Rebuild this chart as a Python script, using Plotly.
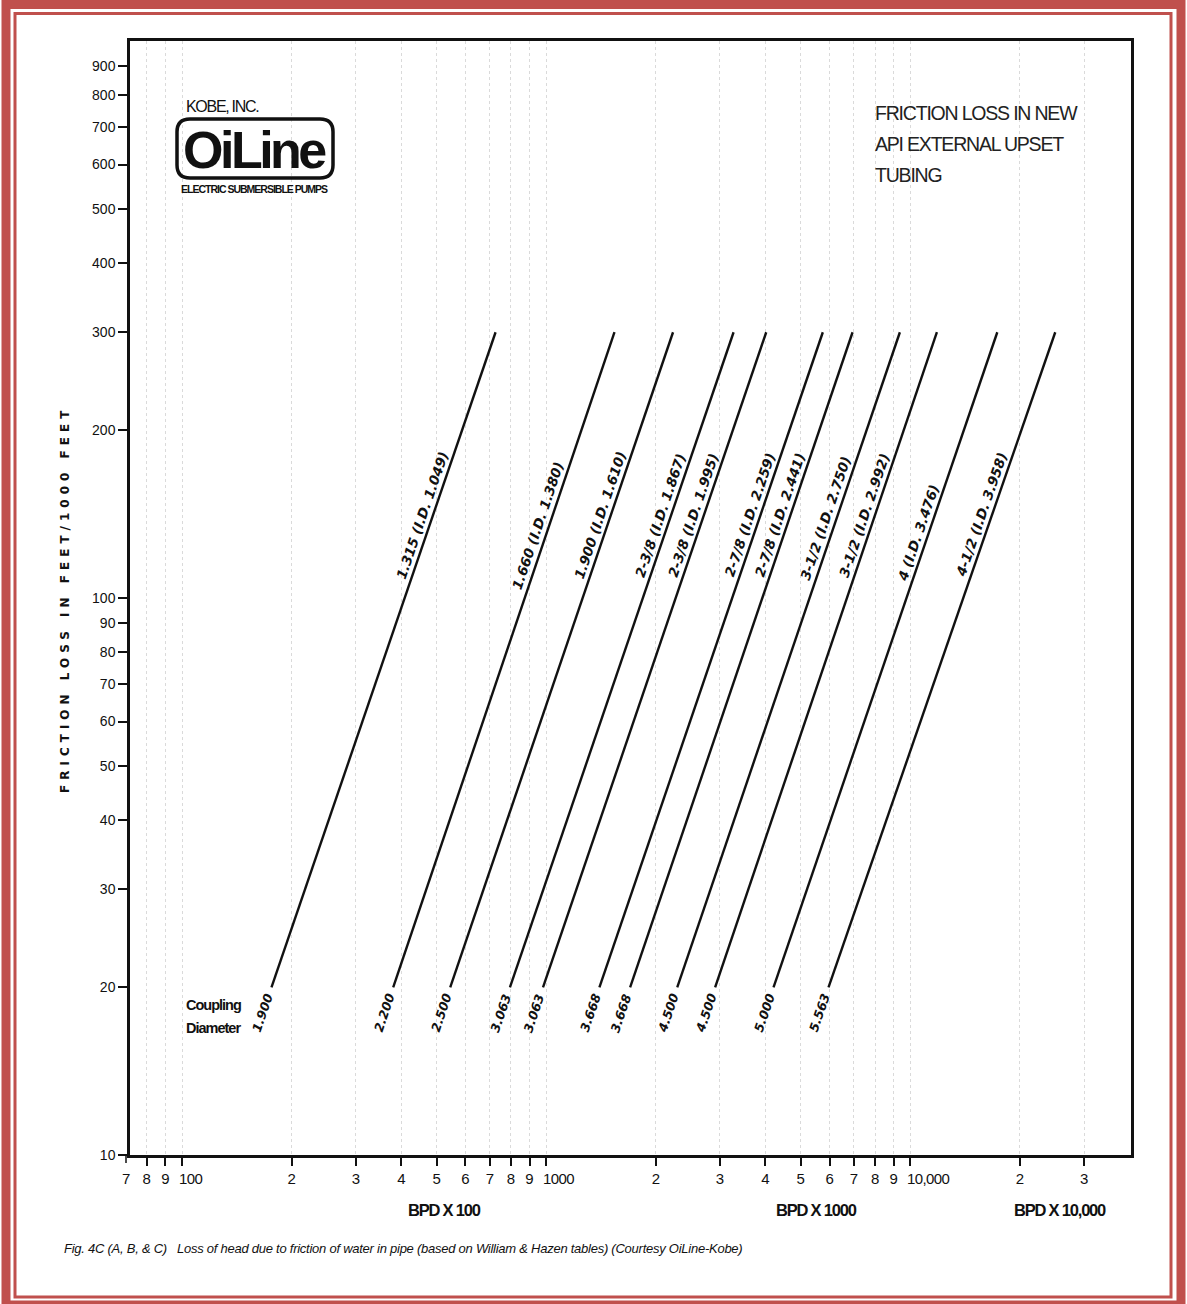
import math
import plotly.graph_objects as go

# Tubing sizes: nominal OD, inside diameter and coupling OD (inches)
pipe_od = ["1.315", "1.660", "1.900", "2-3/8", "2-3/8", "2-7/8", "2-7/8",
           "3-1/2", "3-1/2", "4", "4-1/2"]
pipe_id = ["1.049", "1.380", "1.610", "1.867", "1.995", "2.259", "2.441",
           "2.750", "2.992", "3.476", "3.958"]
coupling_od = ["1.900", "2.200", "2.500", "3.063", "3.063", "3.668", "3.668",
               "4.500", "4.500", "5.000", "5.563"]

# Each curve runs from 20 to 300 ft/1000 ft of friction loss
loss_low = 20
loss_high = 300
bpd_at_low = [176, 380, 545, 795, 980, 1400, 1700, 2290, 2910, 4210, 5960]
bpd_at_high = [726, 1540, 2230, 3270, 4020, 5750, 6940, 9360, 11830, 17330, 25000]

# Friction loss at which each curve's label sits
label_loss = [141, 135, 141, 141, 141, 141, 141, 139, 141, 131, 141]

# Axis ticks (decade labels are set separately, left-aligned on their tick)
x_tickvals = [80, 90, 100, 200, 300, 400, 500, 600, 700, 800, 900,
              1000, 2000, 3000, 4000, 5000, 6000, 7000, 8000, 9000,
              10000, 20000, 30000]
x_ticktext = ["8", "9", "", "2", "3", "4", "5", "6", "7", "8", "9",
              "", "2", "3", "4", "5", "6", "7", "8", "9",
              "", "2", "3"]
x_decades = [100, 1000, 10000]
x_decade_text = ["100", "1000", "10,000"]
x_first_tick = 70
x_first_text = "7"
y_tickvals = [10, 20, 30, 40, 50, 60, 70, 80, 90,
              100, 200, 300, 400, 500, 600, 700, 800, 900]
y_ticktext = [str(v) for v in y_tickvals]

# Page geometry
W, H = 1187, 1304
M_L, M_R, M_T, M_B = 130, 56, 41, 149
PLOT_W = W - M_L - M_R
PLOT_H = H - M_T - M_B
X_RANGE = [1.857, 4.606]
Y_RANGE = [1.0, 3.0]
PX_PER_DEC_X = PLOT_W / (X_RANGE[1] - X_RANGE[0])
PX_PER_DEC_Y = PLOT_H / (Y_RANGE[1] - Y_RANGE[0])

BORDER_RED = "#c0504d"
INK = "#111111"
SANS = "Liberation Sans, Arial, sans-serif"


def fx(px):
    """Page pixel column -> paper x."""
    return (px - M_L) / PLOT_W


def fy(py):
    """Page pixel row -> paper y."""
    return (H - M_B - py) / PLOT_H


def tight(txt, ls):
    """Text with tightened letter spacing (condensed look)."""
    return f'<span style="letter-spacing:{ls}px">{txt}</span>'


fig = go.Figure()

annotations = []
for od, pid, cpl, q0, q1, hl in zip(pipe_od, pipe_id, coupling_od,
                                     bpd_at_low, bpd_at_high, label_loss):
    fig.add_trace(go.Scatter(
        x=[q0, q1], y=[loss_low, loss_high], mode="lines",
        line=dict(color=INK, width=2.4), showlegend=False,
        hoverinfo="skip",
    ))
    lx0, lx1 = math.log10(q0), math.log10(q1)
    ly0, ly1 = math.log10(loss_low), math.log10(loss_high)
    ang = math.degrees(math.atan2((ly1 - ly0) * PX_PER_DEC_Y,
                                  (lx1 - lx0) * PX_PER_DEC_X))
    # Size label along the curve
    t = (math.log10(hl) - ly0) / (ly1 - ly0)
    annotations.append(dict(
        x=lx0 + t * (lx1 - lx0), y=math.log10(hl), xref="x", yref="y",
        text=f"{od} (I.D. {pid})", showarrow=False, textangle=-ang,
        xanchor="center", yanchor="middle", xshift=-11,
        font=dict(family="DejaVu Sans", size=13.5, color=INK,
                  weight="bold", style="italic"),
    ))
    # Coupling diameter just below the end of the curve
    d = 27
    annotations.append(dict(
        x=lx0, y=ly0, xref="x", yref="y", text=cpl, showarrow=False,
        textangle=-ang, xanchor="center", yanchor="middle",
        xshift=-d * math.cos(math.radians(ang)),
        yshift=-d * math.sin(math.radians(ang)),
        font=dict(family="DejaVu Sans", size=12.5, color=INK,
                  weight="bold", style="italic"),
    ))

# Decade tick labels sit just right of their ticks
for v, txt in zip(x_decades, x_decade_text):
    annotations.append(dict(
        x=math.log10(v), y=0, xref="x", yref="paper", text=tight(txt, -0.6),
        showarrow=False, xanchor="left", yanchor="top", xshift=-5, yshift=-13,
        font=dict(family=SANS, size=15, color=INK),
    ))
# First minor tick lies just left of the frame
annotations.append(dict(
    x=fx(126), y=0, xref="paper", yref="paper", text=x_first_text,
    showarrow=False, xanchor="center", yanchor="top", yshift=-13,
    font=dict(family=SANS, size=15, color=INK),
))

# Chart title block
for txt, py in [("FRICTION LOSS IN NEW", 113), ("API EXTERNAL UPSET", 144),
                ("TUBING", 175)]:
    annotations.append(dict(
        x=fx(873), y=fy(py), xref="paper", yref="paper", text=tight(txt, -1.2),
        showarrow=False, xanchor="left", yanchor="middle",
        font=dict(family=SANS, size=19.5, color="#222222"),
    ))

# Company logo
annotations += [
    dict(x=fx(184), y=fy(106), xref="paper", yref="paper",
         text=tight("KOBE, INC.", -1.3),
         showarrow=False, xanchor="left", yanchor="middle",
         font=dict(family=SANS, size=16, color=INK)),
    dict(x=fx(254), y=fy(150), xref="paper", yref="paper",
         text=tight("OiLine", -3.5),
         showarrow=False, xanchor="center", yanchor="middle",
         font=dict(family=SANS, size=52, color=INK, weight="bold")),
    dict(x=fx(254), y=fy(189), xref="paper", yref="paper",
         text=tight("ELECTRIC SUBMERSIBLE PUMPS", -1),
         showarrow=False, xanchor="center", yanchor="middle",
         font=dict(family=SANS, size=10.5, color=INK, weight="bold")),
]

# Coupling diameter key
for txt, py in [("Coupling", 1005), ("Diameter", 1028)]:
    annotations.append(dict(
        x=fx(184), y=fy(py), xref="paper", yref="paper", text=tight(txt, -1),
        showarrow=False, xanchor="left", yanchor="middle",
        font=dict(family=SANS, size=14.5, color=INK, weight="bold"),
    ))

# Axis captions
for txt, px in [("BPD X 100", 444), ("BPD X 1000", 816), ("BPD X 10,000", 1060)]:
    annotations.append(dict(
        x=fx(px), y=fy(1210), xref="paper", yref="paper", text=tight(txt, -1.2),
        showarrow=False, xanchor="center", yanchor="middle",
        font=dict(family=SANS, size=16.5, color=INK, weight="bold"),
    ))

annotations.append(dict(
    x=fx(65), y=fy(600), xref="paper", yref="paper",
    text=tight("FRICTION LOSS IN FEET/1000 FEET", 5),
    showarrow=False, textangle=-90, xanchor="center", yanchor="middle",
    font=dict(family="DejaVu Sans", size=12, color=INK, weight="bold"),
))

annotations.append(dict(
    x=fx(62), y=fy(1248), xref="paper", yref="paper",
    text=tight("Fig. 4C (A, B, &amp; C)   Loss of head due to friction of water in pipe "
               "(based on William &amp; Hazen tables) (Courtesy OiLine-Kobe)", -0.25),
    showarrow=False, xanchor="left", yanchor="middle",
    font=dict(family=SANS, size=13, color=INK, style="italic"),
))


def rounded_rect(x0, y0, x1, y1, r):
    """SVG path (paper coords) for a rounded rectangle given in page pixels."""
    rx, ry = r / PLOT_W, r / PLOT_H
    X0, X1, Y0, Y1 = fx(x0), fx(x1), fy(y1), fy(y0)
    return (f"M{X0 + rx},{Y0} L{X1 - rx},{Y0} Q{X1},{Y0} {X1},{Y0 + ry} "
            f"L{X1},{Y1 - ry} Q{X1},{Y1} {X1 - rx},{Y1} "
            f"L{X0 + rx},{Y1} Q{X0},{Y1} {X0},{Y1 - ry} "
            f"L{X0},{Y0 + ry} Q{X0},{Y0} {X0 + rx},{Y0} Z")


shapes = [
    # Logo frame
    dict(type="path", xref="paper", yref="paper",
         path=rounded_rect(177, 119, 333, 178, 13),
         line=dict(color=INK, width=3.5)),
    # Tick mark for the first minor tick outside the frame
    dict(type="line", xref="paper", yref="paper",
         x0=fx(126), x1=fx(126), y0=0, y1=fy(H - M_B + 8),
         line=dict(color=INK, width=1.5)),
    # Page frame: thick outer band and thin inner rule
    dict(type="rect", xref="paper", yref="paper",
         x0=fx(6), x1=fx(1181), y0=fy(1305), y1=fy(4.5),
         line=dict(color=BORDER_RED, width=9)),
    dict(type="rect", xref="paper", yref="paper",
         x0=fx(15), x1=fx(1171), y0=fy(1297), y1=fy(13.5),
         line=dict(color=BORDER_RED, width=3)),
]

fig.update_layout(
    width=W, height=H,
    margin=dict(l=M_L, r=M_R, t=M_T, b=M_B, pad=0),
    paper_bgcolor="white", plot_bgcolor="white",
    showlegend=False,
    annotations=annotations,
    shapes=shapes,
    xaxis=dict(
        type="log", range=X_RANGE, automargin=False,
        tickmode="array", tickvals=x_tickvals, ticktext=x_ticktext,
        tickangle=0,
        ticks="outside", ticklen=8, tickwidth=1.5, tickcolor=INK,
        tickfont=dict(family=SANS, size=15, color=INK),
        showline=True, linecolor=INK, linewidth=2.5, mirror=True,
        showgrid=True, gridcolor="#dadada", gridwidth=1, griddash="dot",
        zeroline=False,
    ),
    yaxis=dict(
        type="log", range=Y_RANGE, automargin=False,
        tickmode="array", tickvals=y_tickvals, ticktext=y_ticktext,
        ticks="outside", ticklen=9, tickwidth=1.5, tickcolor=INK,
        tickfont=dict(family=SANS, size=14, color=INK),
        showline=True, linecolor=INK, linewidth=2.5, mirror=True,
        showgrid=False, zeroline=False,
    ),
)

fig.write_html("out.html")
